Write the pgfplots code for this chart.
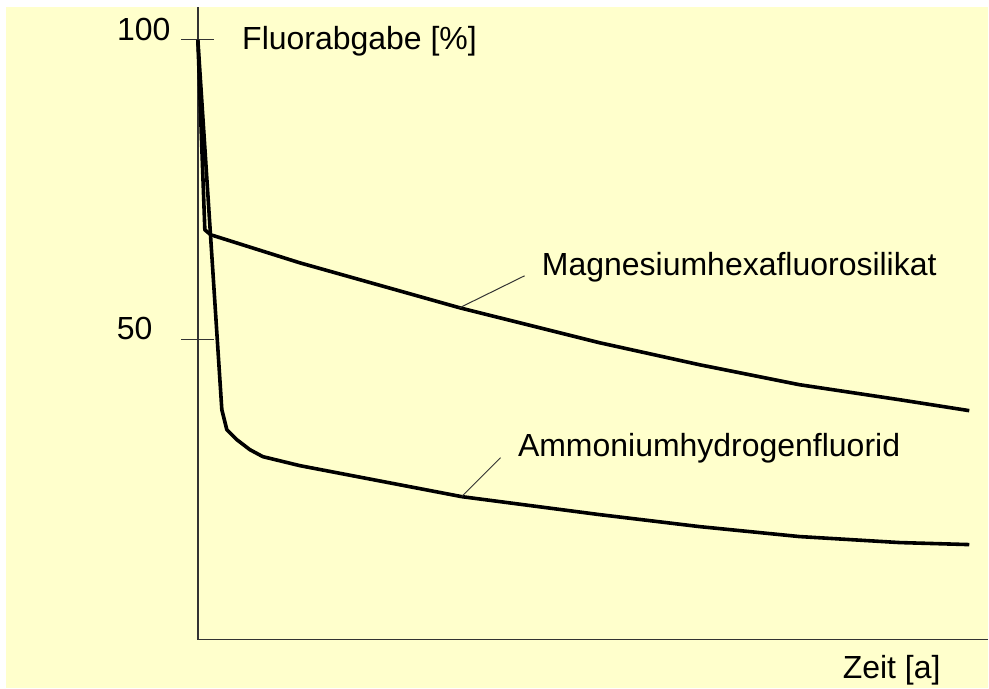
\documentclass[border=0pt]{standalone}
\usepackage{fontspec}
\setmainfont{Liberation Sans}
\usepackage{pgfplots}
\pgfplotsset{compat=1.18}
\definecolor{bgyellow}{HTML}{FFFFCC}
\definecolor{axgray}{HTML}{333333}

\begin{document}
\begin{tikzpicture}[x=0.5pt,y=0.5pt,font=\fontsize{16}{19}\selectfont]
% page 989 x 689 px, 1px = 0.5pt, y counted from the bottom
\fill[white] (0,0) rectangle (989,689);
\fill[bgyellow] (6,0) rectangle (989,682);
\begin{axis}[
  at={(99pt,24.5pt)}, anchor=south west,
  scale only axis, width=395.5pt, height=316.5pt,
  xmin=0, xmax=79.1, ymin=0, ymax=105.5,
  axis x line=bottom, axis y line=left,
  axis line style={-, axgray, line width=0.75pt},
  xtick=\empty, ytick={50,100}, yticklabels={},
  tick align=center, major tick length=16.5pt,
  tick style={axgray, line width=0.5pt},
  clip=false,
]
\addplot[black, line width=1.8pt, line join=round] coordinates {
  (0,100) (0.7,68.33) (1.3,67.5) (10.2,62.83) (26.2,55.33) (40.2,49.5)
  (50.2,45.83) (60.2,42.5) (70.2,40) (77.2,38.17)};
\addplot[black, line width=1.8pt, line join=round] coordinates {
  (0,100) (2.4,38.33) (2.9,35) (3.9,33.33) (5.2,31.67) (6.5,30.5)
  (10.2,29) (26.4,23.83) (40.2,20.83) (50.2,18.83) (60.2,17.17)
  (70.2,16.17) (77.2,15.83)};
\end{axis}
% tick labels
\node[anchor=base east, inner sep=0pt] at (171,648) {100};
\node[anchor=base east, inner sep=0pt] at (153,349) {50};
% titles and curve labels
\node[anchor=base west, inner sep=0pt] at (242,639) {Fluorabgabe [\%]};
\node[anchor=base west, inner sep=0pt] at (843,10) {Zeit [a]};
\node[anchor=base west, inner sep=0pt] at (542,413) {Magnesiumhexafluorosilikat};
\node[anchor=base west, inner sep=0pt] at (518,232) {Ammoniumhydrogenfluorid};
% leader lines
\draw[axgray, line width=0.5pt] (525,413) -- (460,381);
\draw[axgray, line width=0.5pt] (501,231) -- (462,192);
\end{tikzpicture}
\end{document}
